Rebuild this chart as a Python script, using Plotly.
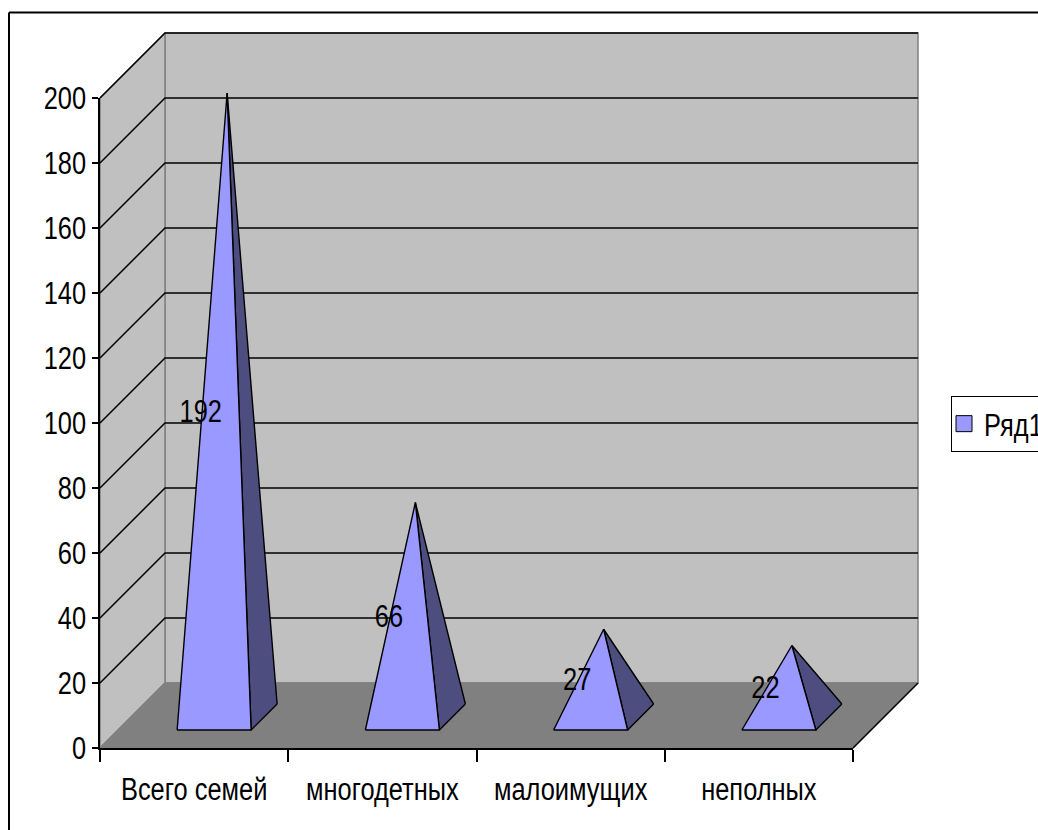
import plotly.graph_objects as go

categories = ["Всего семей", "многодетных", "малоимущих", "неполных"]
values = [192, 66, 27, 22]
y_ticks = [0, 20, 40, 60, 80, 100, 120, 140, 160, 180, 200]
series_name = "Ряд1"

W, H = 1038, 830
PX0, PX1 = 100, 853      # category axis pixel span
PY0, PY200 = 748, 98     # value axis pixel span
UX = (PX1 - PX0) / len(categories)
UY = (PY0 - PY200) / 200
DX = 65 / UX             # oblique depth in x units
DY = 65 / UY             # oblique depth in y units
FONT = "Liberation Sans, Arial"
FS = 31

FRONT = "#9999ff"
SIDE = "#4d4d80"
WALL = "#c0c0c0"
FLOOR = "#808080"
GREY = "#808080"

n = len(categories)
fig = go.Figure()

def poly(xs, ys, fill, line="black", w=1.4):
    fig.add_trace(go.Scatter(x=xs, y=ys, mode="lines", fill="toself", fillcolor=fill,
                             line=dict(color=line, width=w), showlegend=False,
                             hoverinfo="skip", xaxis="x", yaxis="y"))

def seg(xs, ys, color, w=1.2):
    fig.add_trace(go.Scatter(x=xs, y=ys, mode="lines", line=dict(color=color, width=w),
                             showlegend=False, hoverinfo="skip", xaxis="x", yaxis="y"))

top = y_ticks[-1]
poly([DX, n + DX, n + DX, DX, DX], [DY, DY, top + DY, top + DY, DY], WALL, GREY, 1.5)
poly([0, DX, DX, 0, 0], [0, DY, top + DY, top, 0], WALL, GREY, 1.5)
poly([0, n, n + DX, DX, 0], [0, 0, DY, DY, 0], FLOOR, GREY, 1.5)
seg([n, n + DX], [0, DY], "black", 1.5)

for t in y_ticks[1:]:
    seg([0, DX, n + DX], [t, t + DY, t + DY], "black", 1.5)

half_w = 37 / UX
base_front = 18 / UY
base_back = 44 / UY
base_mid = (base_front + base_back) / 2
base_shift = 26 / UX
front_shift = 20 / UX

for i, v in enumerate(values):
    cx = i + 0.5 + front_shift
    fl, fr = cx - half_w, cx + half_w
    br = fr + base_shift
    ax = cx + base_shift / 2
    ay = base_mid + v
    poly([br, ax, fr, br], [base_back, ay, base_front, base_back], SIDE)
    poly([fl, fr, ax, fl], [base_front, base_front, ay, base_front], FRONT)

label_x = [i + 0.5 + front_shift + base_shift / 2 - 0.14 for i in range(n)]
label_y = [base_mid + v / 2 - 9 / UY for v in values]
fig.add_trace(go.Scatter(x=label_x, y=label_y, mode="text", text=[str(v) for v in values],
                         textposition="middle center", textfont=dict(family=FONT, size=FS, color="black"),
                         cliponaxis=False, showlegend=False, hoverinfo="skip",
                         xaxis="x2", yaxis="y2"))
fig.add_trace(go.Scatter(x=[None], y=[None], mode="markers", name=series_name,
                         marker=dict(symbol="square", size=18, color=FRONT, line=dict(color="black", width=1)),
                         xaxis="x2", yaxis="y2"))

fig.update_layout(
    width=W, height=H, margin=dict(l=0, r=0, t=0, b=0, autoexpand=False),
    paper_bgcolor="white", plot_bgcolor="rgba(0,0,0,0)",
    xaxis=dict(domain=[0, 1], range=[(0 - PX0) / UX, (W - PX0) / UX], visible=False, fixedrange=True),
    yaxis=dict(domain=[0, 1], range=[(PY0 - H) / UY, PY0 / UY], visible=False, fixedrange=True),
    xaxis2=dict(domain=[PX0 / W, PX1 / W], range=[0, n], anchor="y2",
                tickmode="array", tickvals=[i + 0.5 for i in range(n)], ticktext=categories,
                ticks="", tickangle=0, ticklabelstandoff=13, showgrid=False, zeroline=False,
                showline=True, linecolor="black", linewidth=1.5,
                tickfont=dict(family=FONT, size=FS, color="black"),
                minor=dict(tickmode="array", tickvals=list(range(n + 1)), ticks="outside",
                           ticklen=12, tickcolor="black", tickwidth=1.5, showgrid=False),
                fixedrange=True),
    yaxis2=dict(domain=[(H - PY0) / H, (H - PY200) / H], range=[0, top], anchor="x2",
                tickmode="array", tickvals=y_ticks, ticks="outside", ticklen=6,
                tickcolor="black", tickwidth=1.5, showgrid=False, zeroline=False,
                showline=True, linecolor="black", linewidth=1.5,
                tickfont=dict(family=FONT, size=FS, color="black"), fixedrange=True),
    legend=dict(x=951 / W, xanchor="left", y=1 - 424 / H, yanchor="middle",
                bordercolor="black", borderwidth=1, bgcolor="white", indentation=-8,
                font=dict(family=FONT, size=FS, color="black")),
    showlegend=True,
    shapes=[
        dict(type="line", xref="paper", yref="paper", x0=9 / W, x1=1, y0=1 - 12.5 / H, y1=1 - 12.5 / H,
             line=dict(color="black", width=2)),
        dict(type="line", xref="paper", yref="paper", x0=9 / W, x1=9 / W, y0=0, y1=1 - 12.5 / H,
             line=dict(color="black", width=2)),
    ],
)

# page margin off; text narrowed to the condensed face of the reference (no narrow font is installed)
post = """
document.body.style.margin = '0';
document.documentElement.style.overflow = 'hidden';
document.querySelectorAll('.main-svg text').forEach(function (t) {
  var w = t.getComputedTextLength();
  if (w > 0) {
    t.setAttribute('textLength', (w * 0.82).toFixed(1));
    t.setAttribute('lengthAdjust', 'spacingAndGlyphs');
  }
});
"""
fig.write_html("out.html", post_script=post, config={"displayModeBar": False})
